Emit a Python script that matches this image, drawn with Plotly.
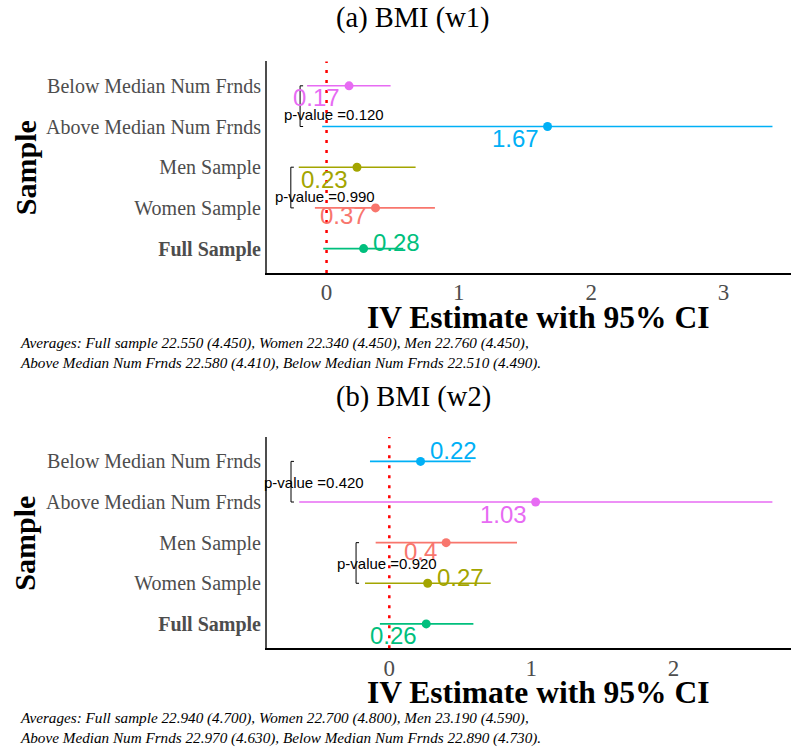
import plotly.graph_objects as go

W, H = 791, 749

categories = ["Full Sample", "Women Sample", "Men Sample",
              "Above Median Num Frnds", "Below Median Num Frnds"]
tick_text = ["<b>Full Sample</b>", "Women Sample", "Men Sample",
             "Above Median Num Frnds", "Below Median Num Frnds"]

# Panel (a) BMI (w1)
a_est = [0.28, 0.37, 0.23, 1.67, 0.17]
a_lo = [-0.025, -0.088, -0.21, -0.033, -0.147]
a_hi = [0.58, 0.819, 0.673, 3.37, 0.484]
a_colors = ["#00BF7D", "#F8766D", "#A3A500", "#00B0F6", "#E76BF3"]
a_side = [1, -1, -1, -1, -1]
a_dy = [6, -8, -12, -12, -12]
a_pvals = ["0.120", "0.990"]

# Panel (b) BMI (w2)
b_est = [0.26, 0.27, 0.40, 1.03, 0.22]
b_lo = [-0.066, -0.171, -0.096, -0.634, -0.136]
b_hi = [0.592, 0.714, 0.899, 2.697, 0.573]
b_colors = ["#00BF7D", "#A3A500", "#F8766D", "#E76BF3", "#00B0F6"]
b_side = [-1, 1, -1, -1, 1]
b_dy = [-12, 6, -9, -12, 11]
b_pvals = ["0.420", "0.920"]

a_caption = ("Averages: Full sample 22.550 (4.450), Women 22.340 (4.450), Men 22.760 (4.450),<br>"
             "Above Median Num Frnds 22.580 (4.410), Below Median Num Frnds 22.510 (4.490).")
b_caption = ("Averages: Full sample 22.940 (4.700), Women 22.700 (4.800), Men 23.190 (4.590),<br>"
             "Above Median Num Frnds 22.970 (4.630), Below Median Num Frnds 22.890 (4.730).")

panels = [
    dict(title="(a) BMI (w1)", est=a_est, lo=a_lo, hi=a_hi, colors=a_colors,
         side=a_side, dy=a_dy, pvals=a_pvals, caption=a_caption,
         xrange=[-0.45, 3.51], top=61.4, bottom=273,
         brackets=[(-0.20, 3, 4), (-0.27, 1, 2)],
         ptext=[(0.053, 3.29), (-0.008, 1.285)], tickdx=0.023,
         title_y=18, xtitle_y=317, cap_y=353),
    dict(title="(b) BMI (w2)", est=b_est, lo=b_lo, hi=b_hi, colors=b_colors,
         side=b_side, dy=b_dy, pvals=b_pvals, caption=b_caption,
         xrange=[-0.861, 2.828], top=437, bottom=648.3,
         brackets=[(-0.692, 3, 4), (-0.234, 1, 2)],
         ptext=[(-0.532, 3.48), (-0.018, 1.49)], tickdx=0.021,
         title_y=397, xtitle_y=692, cap_y=728),
]

fig = go.Figure()
annotations = []
shapes = []
serif = "Liberation Serif"
sans = "Liberation Sans"

for i, p in enumerate(panels):
    xa = "x" if i == 0 else "x2"
    ya = "y" if i == 0 else "y2"
    for c, e, lo, hi, col in zip(categories, p["est"], p["lo"], p["hi"], p["colors"]):
        fig.add_trace(go.Scatter(
            x=[e], y=[c], mode="markers", xaxis=xa, yaxis=ya,
            marker=dict(color=col, size=9),
            error_x=dict(type="data", symmetric=False, array=[hi - e],
                         arrayminus=[e - lo], width=0, thickness=1.6, color=col),
            showlegend=False, hoverinfo="skip"))
    for k, (e, col, s, dy) in enumerate(zip(p["est"], p["colors"], p["side"], p["dy"])):
        txt = f"{e:.2f}".rstrip("0") if f"{e:.2f}".endswith("0") else f"{e:.2f}"
        annotations.append(dict(
            x=e, y=k, xref=xa, yref=ya, text=txt, showarrow=False,
            xanchor="left" if s > 0 else "right", yanchor="middle",
            xshift=7 * s, yshift=dy,
            font=dict(family=sans, size=24, color=col)))
    # zero line
    shapes.append(dict(type="line", xref=xa, yref=ya + " domain", x0=0, x1=0, y0=0, y1=1,
                       line=dict(color="red", width=2.5, dash="3px,7px")))
    # brackets and p-values
    for (bx, y0, y1), (tx, ty), pv in zip(p["brackets"], p["ptext"], p["pvals"]):
        shapes.append(dict(type="path", xref=xa, yref=ya,
                           path=f"M {bx + p['tickdx']} {y0} L {bx} {y0} L {bx} {y1} L {bx + p['tickdx']} {y1}",
                           line=dict(color="black", width=1)))
        annotations.append(dict(x=tx, y=ty, xref=xa, yref=ya, text=f"p-value ={pv}",
                                showarrow=False, xanchor="center", yanchor="middle",
                                font=dict(family=sans, size=15, color="black")))
    # titles
    annotations.append(dict(x=413 / W, y=1 - p["title_y"] / H, xref="paper", yref="paper",
                            text=p["title"], showarrow=False, xanchor="center", yanchor="middle",
                            font=dict(family=serif, size=28.5, color="black")))
    annotations.append(dict(x=538 / W, y=1 - p["xtitle_y"] / H, xref="paper", yref="paper",
                            text="<b>IV Estimate with 95% CI</b>", showarrow=False,
                            xanchor="center", yanchor="middle",
                            font=dict(family=serif, size=31.5, color="black")))
    annotations.append(dict(x=25 / W, y=1 - (p["top"] + p["bottom"]) / 2 / H, xref="paper", yref="paper",
                            text="<b>Sample</b>", showarrow=False, textangle=-90,
                            xanchor="center", yanchor="middle",
                            font=dict(family=serif, size=30, color="black")))
    annotations.append(dict(x=18 / W, y=1 - p["cap_y"] / H, xref="paper", yref="paper",
                            text="<i>" + p["caption"] + "</i>", showarrow=False, align="left",
                            xanchor="left", yanchor="middle",
                            font=dict(family=serif, size=15.2, color="black")))

    xkey = "xaxis" if i == 0 else "xaxis2"
    ykey = "yaxis" if i == 0 else "yaxis2"
    fig.layout[xkey] = dict(domain=[267 / W, 1], range=p["xrange"], anchor=ya,
                            showgrid=False, zeroline=False, ticks="",
                            tickvals=[0, 1, 2, 3], showline=True, linecolor="black", linewidth=1.5,
                            tickfont=dict(family=serif, size=23, color="#4D4D4D"),
                            ticklabelstandoff=-2)
    fig.layout[ykey] = dict(domain=[1 - p["bottom"] / H, 1 - p["top"] / H], anchor=xa,
                            type="category", categoryorder="array", categoryarray=categories,
                            range=[-0.6, 4.6], showgrid=False, zeroline=False, ticks="",
                            tickvals=categories, ticktext=tick_text,
                            showline=True, linecolor="#4D4D4D", linewidth=2,
                            tickfont=dict(family=serif, size=20, color="#4D4D4D"),
                            ticklabelstandoff=0)

fig.update_layout(width=W, height=H, margin=dict(l=0, r=0, t=0, b=0),
                  plot_bgcolor="white", paper_bgcolor="white",
                  annotations=annotations, shapes=shapes)

fig.write_html("out.html")
